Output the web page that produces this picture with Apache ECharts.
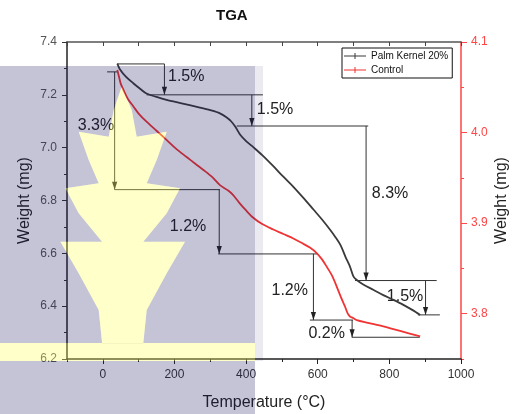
<!DOCTYPE html>
<html>
<head>
<meta charset="utf-8">
<script src="https://cdn.jsdelivr.net/npm/echarts@6/dist/echarts.min.js"></script>
<style>
  html, body { margin: 0; padding: 0; background: #fff; }
  #chart { width: 514px; height: 414px; }
</style>
</head>
<body>
<div id="chart"></div>
<script>
// Palm Kernel 20% (left axis, mg)
var pkTemp = [40.5, 48, 65, 85, 105, 122, 150, 178, 220, 271, 300, 327, 345, 358, 370, 383, 400, 420, 445, 476,
  504, 532, 560, 588, 612, 634, 650, 664, 678, 690, 700, 710, 727, 755, 783, 811, 839, 865, 886];
var pkWeight = [7.318, 7.296, 7.268, 7.244, 7.222, 7.205, 7.192, 7.181, 7.168, 7.152, 7.142, 7.130, 7.115, 7.100,
  7.079, 7.050, 7.025, 7.002, 6.972, 6.930, 6.890, 6.852, 6.810, 6.766, 6.728, 6.690, 6.660, 6.630, 6.585,
  6.550, 6.512, 6.498, 6.482, 6.462, 6.442, 6.424, 6.405, 6.385, 6.367];
// Control (right axis, mg)
var ctrlTemp = [40.5, 45, 50, 60, 70, 85, 100, 122, 150, 178, 205, 234, 260, 280, 305, 327, 350, 364, 380, 400,
  420, 445, 476, 504, 532, 556, 578, 597, 612, 625, 640, 653, 665, 676, 684, 690, 700, 709, 740, 783, 830, 886];
var ctrlWeight = [4.069, 4.062, 4.054, 4.045, 4.037, 4.029, 4.021, 4.012, 4.002, 3.992, 3.982, 3.973, 3.965, 3.959,
  3.951, 3.942, 3.936, 3.931, 3.923, 3.914, 3.906, 3.899, 3.893, 3.888, 3.883, 3.878, 3.873, 3.867, 3.860,
  3.852, 3.842, 3.830, 3.818, 3.808, 3.800, 3.797, 3.795, 3.793, 3.790, 3.786, 3.781, 3.775];

var xLabels = [0, 200, 400, 600, 800, 1000];
var rightLabels = [3.8, 3.9, 4.0, 4.1];

// annotation segments [x1, y1, x2, y2, arrow]
var pkMarks = [
  [40, 7.317, 172, 7.317, 0], [172, 7.317, 172, 7.2, 1], [122, 7.2, 447, 7.2, 0],
  [416, 7.2, 416, 7.082, 1], [374, 7.082, 741, 7.082, 0], [735, 7.082, 735, 6.497, 1],
  [704, 6.497, 932, 6.497, 0], [901, 6.497, 901, 6.367, 1], [880, 6.367, 941, 6.367, 0]
];
var ctrlMarks = [
  [12, 4.067, 40, 4.067, 0], [33, 4.067, 33, 3.937, 1], [33, 3.937, 327, 3.937, 0],
  [325, 3.937, 325, 3.866, 1], [322, 3.866, 601, 3.866, 0], [588, 3.866, 588, 3.793, 1],
  [578, 3.793, 699, 3.793, 0], [696, 3.793, 696, 3.774, 1], [695, 3.774, 885, 3.774, 0]
];
var pkNotes = [[182, 7.269], [430, 7.146], [751, 6.828], [793, 6.436]];
var pkNoteText = ['1.5%', '1.5%', '8.3%', '1.5%'];
var ctrlNotes = [[-70, 4.008], [187, 3.896], [471, 3.825], [574, 3.778]];
var ctrlNoteText = ['3.3%', '1.2%', '1.2%', '0.2%'];

var FONT = 'Liberation Sans, Arial, sans-serif';

function zip(a, b) {
  return a.map(function (v, i) { return [v, b[i]]; });
}

function renderMark(params, api) {
  var p1 = api.coord([api.value(0), api.value(1)]);
  var p2 = api.coord([api.value(2), api.value(3)]);
  var kids = [{
    type: 'line',
    shape: { x1: p1[0], y1: p1[1], x2: p2[0], y2: p2[1] },
    style: { stroke: '#333', lineWidth: 1 }
  }];
  if (api.value(4)) {
    var dx = p2[0] - p1[0], dy = p2[1] - p1[1];
    var len = Math.sqrt(dx * dx + dy * dy) || 1;
    dx /= len; dy /= len;
    var bx = p2[0] - dx * 8, by = p2[1] - dy * 8;
    kids.push({
      type: 'polygon',
      shape: { points: [[p2[0], p2[1]], [bx - dy * 2.6, by + dx * 2.6], [bx + dy * 2.6, by - dx * 2.6]] },
      style: { fill: '#222' }
    });
  }
  return { type: 'group', children: kids };
}

function noteRenderer(texts) {
  return function (params, api) {
    var p = api.coord([api.value(0), api.value(1)]);
    return {
      type: 'text', x: p[0], y: p[1],
      style: { text: texts[params.dataIndex], fill: '#222', fontSize: 16, fontFamily: FONT, align: 'left', verticalAlign: 'middle' }
    };
  };
}

// watermark overlay (lavender field with a leaf cut out)
var leafRight = [[121.7, 86.7], [131.7, 110], [136.7, 136.7], [166.7, 131.7], [156.7, 160], [146.7, 183.3], [180, 188.3],
  [166.7, 213.3], [143.3, 241.7], [185, 241.7], [166.7, 273.3], [146.7, 310], [143.3, 343.3]];
function leafPath(reverse) {
  var right = leafRight.slice();
  var left = leafRight.slice(1).reverse().map(function (p) { return [245.4 - p[0], p[1]]; });
  var pts = right.concat(left);
  if (reverse) pts = pts.reverse();
  return 'M' + pts.map(function (p) { return p[0] + ' ' + p[1]; }).join(' L') + ' Z';
}

function renderWatermark() {
  return {
    type: 'group',
    children: [{
      type: 'path',
      shape: { pathData: 'M0 66 L255 66 L255 414 L0 414 Z ' + leafPath(true) + ' M0 343 L0 361 L255 361 L255 343 Z' },
      style: { fill: 'rgb(19,19,91)', opacity: 0.25 }
    }, {
      type: 'path',
      shape: { pathData: leafPath(false) + ' M0 343 L255 343 L255 361 L0 361 Z' },
      style: { fill: 'rgb(255,255,90)', opacity: 0.33 }
    }, {
      type: 'rect',
      shape: { x: 255, y: 66, width: 8, height: 295 },
      style: { fill: 'rgb(19,19,91)', opacity: 0.09 }
    }]
  };
}

var chart = echarts.init(document.getElementById('chart'), null, { renderer: 'canvas' });
chart.setOption({
  animation: false,
  backgroundColor: '#fff',
  title: {
    text: 'TGA', left: 216, top: 8, padding: 0,
    textStyle: { fontSize: 15, fontWeight: 'bold', color: '#111', fontFamily: FONT }
  },
  legend: {
    orient: 'vertical', left: 342, top: 48, padding: [3, 4, 3, 2], itemGap: 4,
    itemWidth: 22, itemHeight: 7,
    borderColor: '#111', borderWidth: 1, borderRadius: 0,
    icon: 'path://M0,3h22v1H0z M10.5,0.5h1v6h-1z',
    textStyle: { fontSize: 10, color: '#111', fontFamily: FONT },
    data: ['Palm Kernel 20%', 'Control']
  },
  grid: { left: 67, right: 53, top: 42, bottom: 55, outerBoundsMode: 'none', containLabel: false },
  xAxis: [{
    type: 'value', position: 'bottom', min: -100, max: 1000, interval: 100,
    name: 'Temperature (\u00B0C)', nameLocation: 'middle', nameGap: 36,
    nameTextStyle: { fontSize: 16, color: '#222', fontFamily: FONT },
    axisLine: { onZero: false, lineStyle: { color: '#222', width: 1.5 } },
    axisTick: { length: 3, lineStyle: { color: '#222' } },
    axisLabel: { customValues: xLabels, fontSize: 12, color: '#333', margin: 10, fontFamily: FONT,
      formatter: function (v) { return String(v); } },
    splitLine: { show: false }
  }, {
    type: 'value', position: 'bottom', min: -100, max: 1000, interval: 100,
    axisLine: { show: false, onZero: false },
    axisTick: { customValues: xLabels, length: 5, lineStyle: { color: '#222' } },
    axisLabel: { show: false }, splitLine: { show: false }
  }, {
    type: 'value', position: 'top', min: -100, max: 1000, interval: 100,
    axisLine: { onZero: false, lineStyle: { color: '#555', width: 1.5 } },
    axisTick: { inside: true, length: 4, lineStyle: { color: '#444' } },
    axisLabel: { show: false }, splitLine: { show: false }
  }],
  yAxis: [{
    type: 'value', position: 'left', min: 6.2, max: 7.4, interval: 0.2,
    name: 'Weight (mg)', nameLocation: 'middle', nameGap: 34, nameRotate: 90, nameMoveOverlap: false,
    nameTextStyle: { fontSize: 16, color: '#222', fontFamily: FONT },
    axisLine: { show: true, onZero: false, lineStyle: { color: '#222', width: 1.5 } },
    axisTick: { show: true, length: 5, lineStyle: { color: '#333' } },
    minorTick: { show: true, splitNumber: 2, length: 3, lineStyle: { color: '#333' } },
    axisLabel: { fontSize: 12, color: '#555', margin: 10, fontFamily: FONT, formatter: function (v) { return v.toFixed(1); } },
    splitLine: { show: false }
  }, {
    type: 'value', position: 'right', min: 3.75, max: 4.1, interval: 0.05,
    name: 'Weight (mg)', nameLocation: 'middle', nameGap: 33, nameRotate: 90, nameMoveOverlap: false,
    nameTextStyle: { fontSize: 16, color: '#222', fontFamily: FONT },
    axisLine: { show: true, onZero: false, lineStyle: { color: '#ff4545', width: 1.5 } },
    axisTick: { show: true, length: 3, lineStyle: { color: '#ff4545' } },
    axisLabel: { customValues: rightLabels, fontSize: 12, color: '#ff4545', margin: 10, fontFamily: FONT,
      formatter: function (v) { return v.toFixed(1); } },
    splitLine: { show: false }
  }, {
    type: 'value', position: 'right', min: 3.75, max: 4.1, interval: 0.05,
    axisLine: { show: false, onZero: false },
    axisTick: { show: true, customValues: rightLabels, length: 6, lineStyle: { color: '#ff4545' } },
    axisLabel: { show: false }, splitLine: { show: false }
  }],
  series: [{
    name: 'Palm Kernel 20%', type: 'line', xAxisIndex: 0, yAxisIndex: 0,
    data: zip(pkTemp, pkWeight), symbol: 'none', smooth: 0.3, color: '#3a3a3a',
    lineStyle: { width: 1.8, color: '#3a3a3a' }, z: 3
  }, {
    name: 'Control', type: 'line', xAxisIndex: 0, yAxisIndex: 1,
    data: zip(ctrlTemp, ctrlWeight), symbol: 'none', smooth: 0.3, color: '#f03434',
    lineStyle: { width: 1.8, color: '#f03434' }, z: 3
  }, {
    type: 'custom', xAxisIndex: 0, yAxisIndex: 0, data: pkMarks, renderItem: renderMark,
    encode: { x: [0, 2], y: [1, 3] }, silent: true, clip: false
  }, {
    type: 'custom', xAxisIndex: 0, yAxisIndex: 1, data: ctrlMarks, renderItem: renderMark,
    encode: { x: [0, 2], y: [1, 3] }, silent: true, clip: false
  }, {
    type: 'custom', xAxisIndex: 0, yAxisIndex: 0, data: pkNotes, renderItem: noteRenderer(pkNoteText),
    encode: { x: 0, y: 1 }, silent: true, clip: false
  }, {
    type: 'custom', xAxisIndex: 0, yAxisIndex: 1, data: ctrlNotes, renderItem: noteRenderer(ctrlNoteText),
    encode: { x: 0, y: 1 }, silent: true, clip: false
  }, {
    type: 'custom', coordinateSystem: 'none', data: [0], renderItem: renderWatermark,
    silent: true, z: 50
  }]
});
</script>
</body>
</html>
